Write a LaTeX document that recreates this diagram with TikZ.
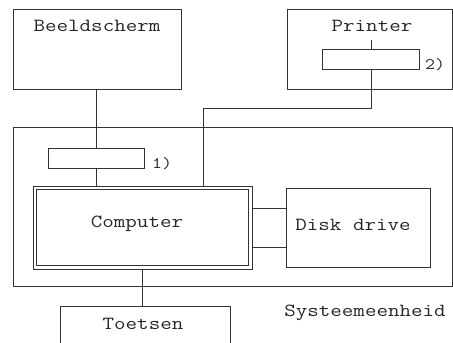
\documentclass[tikz,border=0pt]{standalone}
\usepackage{graphicx}
\usetikzlibrary{calc}
% wide typewriter lettering
\newcommand{\wide}[1]{\scalebox{1.21}[1]{#1}}
\tikzset{
  box/.style={draw=black!80, line width=0.8pt, inner sep=0pt, minimum width=#1},
  label/.style={font=\ttfamily\fontsize{18.5}{20}\selectfont, text=black!85, inner sep=0pt},
  wire/.style={draw=black!80, line width=0.8pt},
}
\begin{document}
\begin{tikzpicture}[x=1pt, y=-1pt]
  \useasboundingbox (0,0) rectangle (453,343);
  \clip (0,0) rectangle (453,343);
  % outer units
  \node[box=168pt, minimum height=80pt] (beeld) at (97,49) {};
  \node[label] (beeldtxt) at (97,26) {\wide{Beeldscherm}};
  \node[box=165pt, minimum height=80pt] (prn) at (369.5,49) {};
  \node[label] (prntxt) at (372,26) {\wide{Printer}};
  \node[box=97pt, minimum height=20pt] (port2) at (370.5,59) {};
  \node[label, font=\ttfamily\fontsize{16}{18}\selectfont] (port2txt) at (435,65) {\wide{2)}};
  % system unit
  \node[box=439pt, minimum height=159pt] (sys) at (232.5,206.5) {};
  \node[label] (systxt) at (365,313) {\wide{Systeemeenheid}};
  \node[box=96pt, minimum height=20pt] (port1) at (96,158) {};
  \node[label, font=\ttfamily\fontsize{16}{18}\selectfont] (port1txt) at (162,164) {\wide{1)}};
  \node[box=219pt, minimum height=83pt] (comp) at (142.5,227.5) {};
  \draw[wire] ([shift={(4,4)}]comp.north west) rectangle ([shift={(-4,-4)}]comp.south east);
  \node[label] (comptxt) at (137,224) {\wide{Computer}};
  \node[box=144pt, minimum height=79pt] (disk) at (358,227.5) {};
  \node[label] (disktxt) at (353,225) {\wide{Disk drive}};
  % keyboard
  \node[box=170pt, minimum height=54pt] (keys) at (145,333) {};
  \node[label] (keystxt) at (143,324) {\wide{Toetsen}};
  % connections
  \draw[wire] (port1.north) -- (port1.north |- beeld.south);
  \draw[wire] (port1.south) -- (port1.south |- comp.north);
  \coordinate (prnstub) at (371,40);
  \draw[wire] (prnstub) -- (prnstub |- port2.north);
  \coordinate (bend) at (203,108);
  \draw[wire] (port2.south -| prnstub) -- (prnstub |- bend) -- (bend) -- (bend |- comp.north);
  \draw[wire] ($(comp.east)+(0,-19.5)$) -- ($(disk.west |- comp.east)+(0,-19.5)$);
  \draw[wire] ($(comp.east)+(0,19.5)$) -- ($(disk.west |- comp.east)+(0,19.5)$);
  \draw[wire] (comp.south) -- (comp.south |- keys.north);
\end{tikzpicture}
\end{document}
